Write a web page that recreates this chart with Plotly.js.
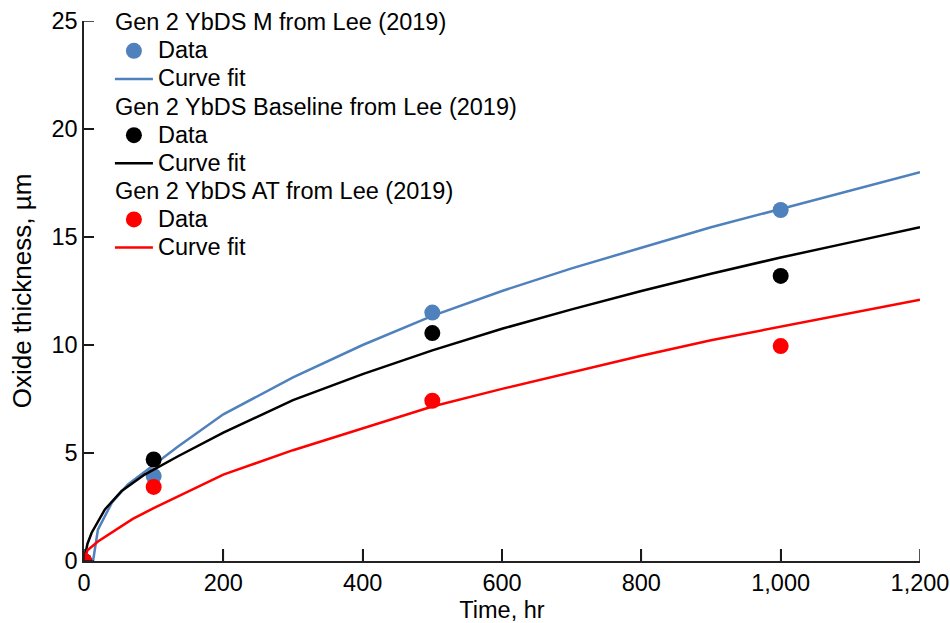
<!DOCTYPE html>
<html>
<head>
<meta charset="utf-8">
<script src="https://cdn.plot.ly/plotly-3.0.1.min.js"></script>
<style>html,body{margin:0;padding:0;background:#fff;}#chart{width:950px;height:623px;}</style>
</head>
<body>
<div id="chart"></div>
<script>
// Measured data (Lee 2019)
const dataTime = [0, 100, 500, 1000];
const dataM = [0, 3.93, 11.5, 16.25];
const dataBaseline = [0, 4.7, 10.55, 13.2];
const dataAT = [0, 3.43, 7.42, 9.95];

// Curve fits
const fitTimeM = [13, 20, 40, 63, 92, 135, 200, 300, 400, 500, 600, 700, 800, 900, 1000, 1100, 1200];
const fitM = [0, 1.45, 2.7, 3.55, 4.25, 5.3, 6.79, 8.5, 10.0, 11.35, 12.5, 13.55, 14.5, 15.45, 16.3, 17.15, 18.0];
const fitTimeB = [0, 5, 11, 30, 54, 87, 135, 200, 300, 400, 500, 600, 700, 800, 900, 1000, 1100, 1200];
const fitBaseline = [0, 0.8, 1.31, 2.39, 3.24, 4.0, 4.85, 5.94, 7.45, 8.65, 9.75, 10.75, 11.65, 12.5, 13.3, 14.05, 14.75, 15.45];
const fitTimeA = [0, 5, 20, 40, 70, 100, 200, 300, 400, 500, 600, 700, 800, 900, 1000, 1100, 1200];
const fitAT = [0, 0.5, 0.9, 1.31, 1.95, 2.45, 4.0, 5.13, 6.15, 7.15, 7.97, 8.75, 9.5, 10.22, 10.85, 11.47, 12.1];

// Axis tick values
const xTicks = [0, 200, 400, 600, 800, 1000, 1200];
const yTicks = [0, 5, 10, 15, 20, 25];

const blue = '#4F81BD', black = '#000000', red = '#FF0000';
const big = s => '<span style="font-size:23.5px">' + s + '</span>';
const groups = [
  {name: 'Gen 2 YbDS M from Lee (2019)', g: 'M', color: blue, dy: dataM, fx: fitTimeM, fy: fitM},
  {name: 'Gen 2 YbDS Baseline from Lee (2019)', g: 'B', color: black, dy: dataBaseline, fx: fitTimeB, fy: fitBaseline},
  {name: 'Gen 2 YbDS AT from Lee (2019)', g: 'A', color: red, dy: dataAT, fx: fitTimeA, fy: fitAT}
];

const traces = [];
groups.forEach(gr => {
  traces.push({
    x: dataTime, y: gr.dy, type: 'scatter', mode: 'markers', name: big('Data'),
    legendgroup: gr.g, legendgrouptitle: {text: big(gr.name), font: {size: 19.3, color: '#000'}},
    marker: {color: gr.color, size: 16}
  });
  traces.push({
    x: gr.fx, y: gr.fy, type: 'scatter', mode: 'lines', name: big('Curve fit'),
    legendgroup: gr.g,
    line: {color: gr.color, width: 2.5}
  });
});

// Inside tick marks, anchored to the axes through the library's scales
const tickStyle = {color: '#1a1a1a', width: 1.5};
const shapes = [];
xTicks.forEach(v => shapes.push({type: 'line', xref: 'x', yref: 'y', ysizemode: 'pixel', yanchor: 0,
  x0: v, x1: v, y0: 0, y1: 12, line: tickStyle, layer: 'above'}));
yTicks.forEach(v => shapes.push({type: 'line', xref: 'x', yref: 'y', xsizemode: 'pixel', xanchor: 0,
  x0: 0, x1: 10, y0: v, y1: v, line: tickStyle, layer: 'above'}));

const layout = {
  width: 950, height: 623,
  margin: {l: 84, r: 30, t: 21, b: 62, autoexpand: false},
  paper_bgcolor: '#fff', plot_bgcolor: '#fff',
  font: {family: '"Liberation Sans", Arial, sans-serif', size: 23.5, color: '#000'},
  showlegend: true,
  legend: {x: 0.031, y: 1.032, xanchor: 'left', yanchor: 'top', bgcolor: 'rgba(0,0,0,0)',
           tracegroupgap: 0, itemwidth: 38, font: {size: 19.3}, groupclick: 'toggleitem'},
  shapes: shapes,
  xaxis: {
    range: [0, 1200], tickmode: 'array', tickvals: xTicks, tickformat: ',d',
    ticks: 'inside', ticklen: 12, tickcolor: '#1a1a1a', tickwidth: 1.5,
    showline: true, linecolor: '#222', linewidth: 1.5, showgrid: false, zeroline: false,
    title: {text: 'Time, hr', font: {size: 23.5}, standoff: 13},
    tickfont: {size: 23.5}, ticklabelstandoff: 0
  },
  yaxis: {
    range: [0, 25], tickmode: 'array', tickvals: yTicks, ticks: 'inside', ticklen: 10, tickcolor: '#1a1a1a', tickwidth: 1.5,
    showline: true, linecolor: '#222', linewidth: 1.5, showgrid: false, zeroline: false,
    title: {text: 'Oxide thickness, µm', font: {size: 26}, standoff: 12},
    tickfont: {size: 23.5}, ticklabelstandoff: 0, ticksuffix: '\u2009'
  }
};

Plotly.newPlot('chart', traces, layout, {displayModeBar: false});
</script>
</body>
</html>
